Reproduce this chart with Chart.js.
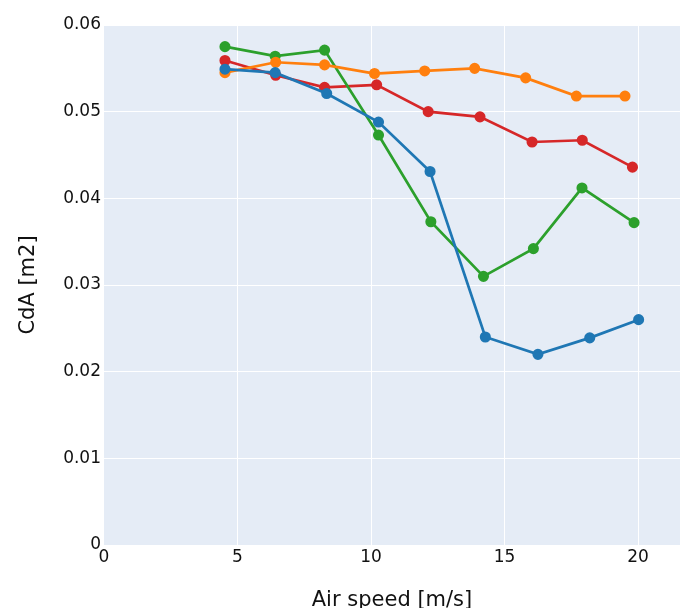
<!DOCTYPE html>
<html>
<head>
<meta charset="utf-8">
<script src="https://cdn.jsdelivr.net/npm/chart.js@4"></script>
<style>
  html, body { margin: 0; padding: 0; background: #fff; overflow: hidden; }
  #wrap { width: 680px; height: 608px; }
</style>
</head>
<body>
<div id="wrap"><canvas id="chart" width="680" height="608"></canvas></div>
<script>
'use strict';

// values
var blueX = [4.53, 6.41, 8.34, 10.28, 12.21, 14.28, 16.25, 18.19, 20.02];
var blueY = [0.0549, 0.0545, 0.0521, 0.0488, 0.0431, 0.0240, 0.0220, 0.0239, 0.0260];

var orangeX = [4.53, 6.43, 8.26, 10.13, 12.01, 13.88, 15.79, 17.69, 19.51];
var orangeY = [0.0545, 0.0557, 0.0554, 0.0544, 0.0547, 0.0550, 0.0539, 0.0518, 0.0518];

var greenX = [4.53, 6.41, 8.26, 10.28, 12.24, 14.21, 16.08, 17.90, 19.85];
var greenY = [0.0575, 0.0564, 0.0571, 0.0473, 0.0373, 0.0310, 0.0342, 0.0412, 0.0372];

var redX = [4.53, 6.43, 8.26, 10.21, 12.14, 14.08, 16.03, 17.91, 19.79];
var redY = [0.0559, 0.0542, 0.0528, 0.0531, 0.0500, 0.0494, 0.0465, 0.0467, 0.0436];

var xTicks = [0, 5, 10, 15, 20];
var yTicks = [0, 0.01, 0.02, 0.03, 0.04, 0.05, 0.06];

function pts(xs, ys) {
  var out = [];
  for (var i = 0; i < xs.length; i++) out.push({ x: xs[i], y: ys[i] });
  return out;
}

function series(xs, ys, color) {
  return {
    data: pts(xs, ys),
    borderColor: color,
    backgroundColor: color,
    borderWidth: 2.7,
    pointRadius: 4.2,
    pointHoverRadius: 4.2,
    showLine: true,
    tension: 0
  };
}

// plotly-like plot background
var plotBg = {
  id: 'plotBg',
  beforeDraw: function(chart) {
    var a = chart.chartArea;
    var c = chart.ctx;
    c.save();
    c.fillStyle = '#E5ECF6';
    c.fillRect(a.left, a.top, a.right - a.left, a.bottom - a.top);
    c.restore();
  }
};

var font = "'DejaVu Sans', Verdana, sans-serif";
var textColor = '#111';

function gridColor(c) {
  return c.tick && c.tick.value === 0 ? 'rgba(0,0,0,0)' : '#ffffff';
}

new Chart(document.getElementById('chart'), {
  type: 'scatter',
  data: {
    datasets: [
      series(blueX, blueY, '#1f77b4'),
      series(orangeX, orangeY, '#ff7f0e'),
      series(greenX, greenY, '#2ca02c'),
      series(redX, redY, '#d62728')
    ]
  },
  options: {
    responsive: false,
    animation: false,
    layout: { autoPadding: false, padding: { top: 25, right: 0, left: 0, bottom: 0 } },
    plugins: { legend: { display: false }, tooltip: { enabled: false } },
    scales: {
      x: {
        type: 'linear',
        min: 0,
        max: 21.57,
        afterBuildTicks: function(axis) {
          axis.ticks = xTicks.map(function(v) { return { value: v }; });
        },
        afterFit: function(axis) {
          axis.height = 63;
          axis.paddingRight = 0;
          axis.paddingLeft = 0;
        },
        border: { display: false },
        grid: { color: gridColor, lineWidth: 1, drawTicks: false },
        ticks: { color: textColor, font: { family: font, size: 17 }, padding: 2, maxRotation: 0 },
        title: {
          display: true,
          text: 'Air speed [m/s]',
          color: textColor,
          font: { family: font, size: 21 },
          padding: { top: 0, bottom: -5 }
        }
      },
      y: {
        min: 0,
        max: 0.06,
        afterBuildTicks: function(axis) {
          axis.ticks = yTicks.map(function(v) { return { value: v }; });
        },
        afterFit: function(axis) { axis.width = 104; },
        border: { display: false },
        grid: { color: gridColor, lineWidth: 1, drawTicks: false },
        ticks: {
          color: textColor,
          font: { family: font, size: 17 },
          padding: 3,
          callback: function(v) { return v === 0 ? '0' : v.toFixed(2); }
        },
        title: {
          display: true,
          text: 'CdA [m2]',
          color: textColor,
          font: { family: font, size: 21 },
          padding: { top: 16, bottom: 0 }
        }
      }
    }
  },
  plugins: [plotBg]
});
</script>
</body>
</html>
